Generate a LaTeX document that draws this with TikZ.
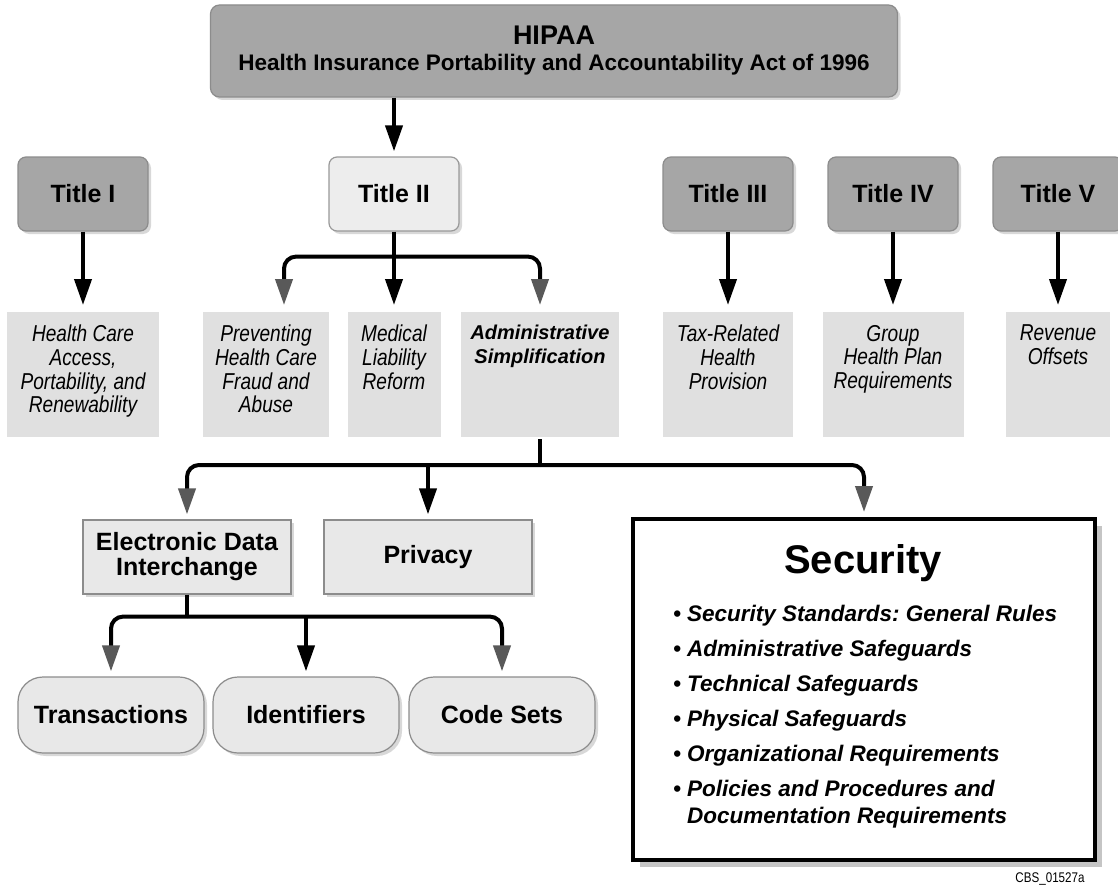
\documentclass[tikz,border=0pt]{standalone}
\usepackage{fontspec}
\setmainfont{Liberation Sans}
\newfontfamily\narrowfont[FakeStretch=0.83]{Liberation Sans}
\usetikzlibrary{arrows.meta,shadows}
\newcommand\leaftext[2]{\parbox[c][99pt][t]{#1}{\centering #2}}
\begin{document}
\begin{tikzpicture}
  [x=1pt,y=1pt,line width=4pt,
   every node/.style={inner sep=0pt,align=center},
   shade box/.style={drop shadow={opacity=0.3,shadow xshift=3pt,shadow yshift=-3pt}},
   hipaabox/.style={shade box,rounded corners=9pt,draw=black!45,line width=1.2pt,fill=black!35,
     minimum width=687pt,minimum height=92pt,font=\bfseries\fontsize{22.5}{26}\selectfont},
   titlebox/.style={shade box,rounded corners=8pt,draw=black!45,line width=1.2pt,fill=black!35,
     minimum width=130pt,minimum height=74pt,font=\bfseries\fontsize{25}{25}\selectfont},
   leafbox/.style={fill=black!12,inner xsep=4pt,inner ysep=13pt,
     font=\narrowfont\itshape\fontsize{23}{23.7}\selectfont},
   plainbox/.style={shade box,draw=black!45,line width=1.2pt,fill=black!9,
     minimum width=208pt,minimum height=74pt,font=\bfseries\fontsize{25}{25}\selectfont},
   pillbox/.style={shade box,rounded corners=25pt,draw=black!45,line width=1.2pt,fill=black!9,
     minimum width=186pt,minimum height=76pt,font=\bfseries\fontsize{25}{25}\selectfont},
   secbox/.style={drop shadow={opacity=0.45,shadow xshift=7pt,shadow yshift=-7pt},
     draw=black,line width=4pt,fill=white,minimum width=462pt,minimum height=341pt},
   arr/.style={-{Triangle[length=26pt,width=17pt]},shorten >=5pt},
   garr/.style={-{Triangle[length=26pt,width=17pt,color=black!65]},shorten >=5pt,rounded corners=12pt}]
\useasboundingbox[fill=white] (0,0) rectangle (1118,-888);

\node[hipaabox] (hipaa) at (554,-51) {{\fontsize{27}{27}\selectfont HIPAA}\\
  Health Insurance Portability and Accountability Act of 1996};

\node[titlebox] (t1) at (83,-194) {Title I};
\node[titlebox,fill=black!7,draw=black!40] (t2) at (394,-194) {Title II};
\node[titlebox] (t3) at (728,-194) {Title III};
\node[titlebox] (t4) at (893,-194) {Title IV};
\node[titlebox] (t5) at (1058,-194) {Title V};

\node[leafbox] (hc) at (83,-374.5) {\leaftext{144pt}{Health Care\\Access,\\Portability, and\\Renewability}};
\node[leafbox] (fraud) at (266,-374.5) {\leaftext{118pt}{Preventing\\Health Care\\Fraud and\\Abuse}};
\node[leafbox] (liab) at (394,-374.5) {\leaftext{85pt}{Medical\\Liability\\Reform}};
\node[leafbox,font=\bfseries\itshape\fontsize{20}{24}\selectfont] (admin) at (540,-374.5)
  {\leaftext{150pt}{Administrative\\Simplification}};
\node[leafbox] (tax) at (728,-374.5) {\leaftext{122pt}{Tax-Related\\Health\\Provision}};
\node[leafbox] (group) at (893,-374.5) {\leaftext{133pt}{Group\\Health Plan\\Requirements}};
\node[leafbox] (rev) at (1058,-374.5) {\leaftext{96pt}{Revenue\\Offsets}};

\node[plainbox] (edi) at (187,-557) {Electronic Data\\Interchange};
\node[plainbox] (priv) at (428,-557) {Privacy};
\node[secbox] (sec) at (864,-689.5) {};
\node[anchor=base,font=\bfseries\fontsize{40}{40}\selectfont] (sectitle) at (863,-573) {Security};
\node[anchor=north west,align=left,font=\bfseries\itshape\fontsize{22.5}{27}\selectfont] (seclist) at (671,-603)
  {\textbullet\ Security Standards:\ General Rules\\[8pt]
   \textbullet\ Administrative Safeguards\\[8pt]
   \textbullet\ Technical Safeguards\\[8pt]
   \textbullet\ Physical Safeguards\\[8pt]
   \textbullet\ Organizational Requirements\\[8pt]
   \textbullet\ Policies and Procedures and\\
   \phantom{\textbullet\ }Documentation Requirements};

\node[pillbox] (trans) at (111,-715) {Transactions};
\node[pillbox] (ident) at (306,-715) {Identifiers};
\node[pillbox] (codes) at (502,-715) {Code Sets};

\node[font=\narrowfont\fontsize{14}{14}\selectfont] (cbs) at (1050,-879) {CBS\_01527a};

\coordinate (t2fork) at ([yshift=-25pt]t2.south);
\coordinate (adminfork) at ([yshift=-26pt]admin.south);
\coordinate (edifork) at ([yshift=-22pt]edi.south);

\draw[arr] (hipaa.south -| t2.north) -- (t2.north);
\foreach \a/\b in {t1/hc,t3/tax,t4/group,t5/rev}
  \draw[arr] (\a.south) -- (\b.north);

\draw[arr] (t2.south) -- (liab.north);
\draw[garr] (t2fork) -| ([xshift=18pt]fraud.north);
\draw[garr] (t2fork) -| (admin.north);

\draw (admin.south) -- (adminfork);
\draw[garr] (adminfork) -| (edi.north);
\draw[arr] (adminfork -| priv.north) -- (priv.north);
\draw[garr] (adminfork) -| (sec.north);

\draw (edi.south) -- (edifork);
\draw[garr] (edifork) -| (trans.north);
\draw[arr] (edifork -| ident.north) -- (ident.north);
\draw[garr] (edifork) -| (codes.north);
\end{tikzpicture}
\end{document}
